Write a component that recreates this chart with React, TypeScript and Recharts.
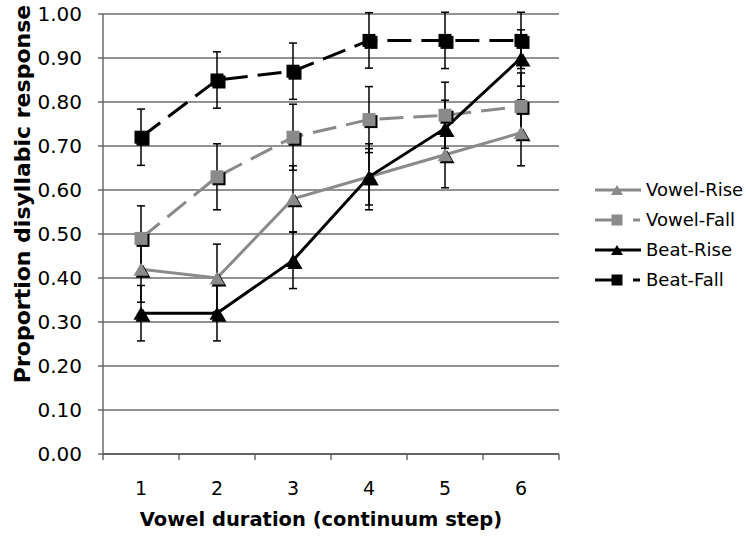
import React from "react";
import { CartesianGrid, ErrorBar, Line, LineChart, XAxis, YAxis } from "recharts";

const steps = [1, 2, 3, 4, 5, 6];
const vowelRise = [0.42, 0.4, 0.58, 0.63, 0.68, 0.73];
const vowelFall = [0.49, 0.63, 0.72, 0.76, 0.77, 0.79];
const beatRise = [0.32, 0.32, 0.44, 0.63, 0.74, 0.9];
const beatFall = [0.72, 0.85, 0.87, 0.94, 0.94, 0.94];
const vowelRiseErr = [0.075, 0.077, 0.075, 0.075, 0.075, 0.075];
const vowelFallErr = [0.074, 0.075, 0.075, 0.075, 0.075, 0.076];
const beatRiseErr = [0.063, 0.063, 0.064, 0.064, 0.064, 0.064];
const beatFallErr = [0.064, 0.064, 0.064, 0.063, 0.064, 0.064];
const yTicks = [0, 0.1, 0.2, 0.3, 0.4, 0.5, 0.6, 0.7, 0.8, 0.9, 1];
const xTicks = [0.5, 1, 1.5, 2, 2.5, 3, 3.5, 4, 4.5, 5, 5.5, 6, 6.5];

const data = steps.map((step, i) => ({
  step,
  vowelRise: vowelRise[i],
  vowelRiseErr: vowelRiseErr[i],
  vowelFall: vowelFall[i],
  vowelFallErr: vowelFallErr[i],
  beatRise: beatRise[i],
  beatRiseErr: beatRiseErr[i],
  beatFall: beatFall[i],
  beatFallErr: beatFallErr[i],
}));

const GRAY = "#8a8a8a";
const FONT = "'DejaVu Sans', Verdana, sans-serif";

const series = [
  { key: "vowelRise", name: "Vowel-Rise", color: GRAY, shape: "triangle", dash: undefined },
  { key: "vowelFall", name: "Vowel-Fall", color: GRAY, shape: "square", dash: "24 10" },
  { key: "beatRise", name: "Beat-Rise", color: "#000", shape: "triangle", dash: undefined },
  { key: "beatFall", name: "Beat-Fall", color: "#000", shape: "square", dash: "24 10" },
];

function markerPath(shape: string, cx: number, cy: number, r: number) {
  if (shape === "triangle") {
    return `M${cx},${cy - r} L${cx + r + 1},${cy + r} L${cx - r - 1},${cy + r} Z`;
  }
  return `M${cx - r},${cy - r} h${2 * r} v${2 * r} h${-2 * r} Z`;
}

function makeDot(shape: string, color: string) {
  return (props: any) => {
    const { cx, cy, index } = props;
    if (cx == null || cy == null) return <g key={index} />;
    return (
      <g key={index}>
        <path d={markerPath(shape, cx + 2, cy + 2, 6.5)} fill="#000" />
        <path d={markerPath(shape, cx, cy, 6.5)} fill={color} />
      </g>
    );
  };
}

function XTick(props: any) {
  const { x, y, payload } = props;
  if (Number.isInteger(payload.value)) {
    return (
      <text x={x} y={y + 41} textAnchor="middle" fontSize={19} fill="#000" fontFamily={FONT}>
        {payload.value}
      </text>
    );
  }
  return <line x1={x} x2={x} y1={y} y2={y + 6} stroke="#555" strokeWidth={1.3} />;
}

function XTitle(props: any) {
  const { viewBox } = props;
  const cx = viewBox.x + viewBox.width / 2 - 10;
  const by = viewBox.y + viewBox.height - 15;
  return (
    <text x={cx} y={by} textAnchor="middle" fontSize={19.5} fontWeight="bold" fill="#000" fontFamily={FONT}>
      Vowel duration (continuum step)
    </text>
  );
}

function YTitle(props: any) {
  const { viewBox } = props;
  const cx = viewBox.x + 22;
  const cy = viewBox.y + viewBox.height / 2 - 40;
  return (
    <text
      x={cx}
      y={cy}
      transform={`rotate(-90, ${cx}, ${cy})`}
      textAnchor="middle"
      dominantBaseline="central"
      fontSize={22}
      fontWeight="bold"
      fill="#000"
      fontFamily={FONT}
    >
      Proportion disyllabic response
    </text>
  );
}

function LegendIcon({ shape, color }: { shape: string; color: string }) {
  if (shape === "triangle") {
    return (
      <svg width={48} height={20} style={{ display: "block" }}>
        <line x1={1} x2={47} y1={10} y2={10} stroke={color} strokeWidth={3} />
        <path d={markerPath("triangle", 23, 10, 5)} fill={color} />
      </svg>
    );
  }
  return (
    <svg width={48} height={20} style={{ display: "block" }}>
      <line x1={1} x2={22} y1={10} y2={10} stroke={color} strokeWidth={3} />
      <path d={markerPath("square", 23, 10, 5.5)} fill={color} />
      <line x1={39} x2={46} y1={10} y2={10} stroke={color} strokeWidth={3} />
    </svg>
  );
}

export default function App() {
  return (
    <div style={{ position: "absolute", left: 0, top: 0, width: 746, height: 541, background: "#fff", fontFamily: FONT }}>
      <LineChart width={746} height={541} data={data} margin={{ top: 14, right: 187, bottom: 0, left: 0 }}>
        <CartesianGrid vertical={false} stroke="#6e6e6e" strokeWidth={1.3} />
        <XAxis
          dataKey="step"
          type="number"
          domain={[0.5, 6.5]}
          ticks={xTicks}
          interval={0}
          height={87}
          tickLine={false}
          tickSize={0}
          tickMargin={0}
          tick={<XTick />}
          axisLine={{ stroke: "#555", strokeWidth: 1.3 }}
          label={<XTitle />}
        />
        <YAxis
          domain={[0, 1]}
          ticks={yTicks}
          allowDataOverflow
          width={103}
          tickSize={5}
          tickMargin={16}
          tickLine={{ stroke: "#555", strokeWidth: 1.3 }}
          axisLine={{ stroke: "#555", strokeWidth: 1.3 }}
          tickFormatter={(v: number) => v.toFixed(2)}
          tick={{ fontSize: 20, fill: "#000", fontFamily: FONT }}
          label={<YTitle />}
        />
        <YAxis yAxisId="r" orientation="right" width={0} tick={false} tickLine={false} axisLine={{ stroke: "#6e6e6e", strokeWidth: 1.3 }} />
        {series.map((s) => (
          <Line
            key={s.key}
            dataKey={s.key}
            name={s.name}
            stroke={s.color}
            strokeWidth={3}
            strokeDasharray={s.dash}
            dot={makeDot(s.shape, s.color)}
            activeDot={false}
            isAnimationActive={false}
          >
            <ErrorBar dataKey={`${s.key}Err`} direction="y" width={4} stroke="#000" strokeWidth={1.5} isAnimationActive={false} />
          </Line>
        ))}
      </LineChart>
      <div style={{ position: "absolute", left: 594, top: 175 }}>
        {series.map((s) => (
          <div key={s.key} style={{ display: "flex", alignItems: "center", height: 30 }}>
            <LegendIcon shape={s.shape} color={s.color} />
            <span style={{ fontSize: 18, marginLeft: 4, color: "#000", lineHeight: "20px" }}>{s.name}</span>
          </div>
        ))}
      </div>
    </div>
  );
}
